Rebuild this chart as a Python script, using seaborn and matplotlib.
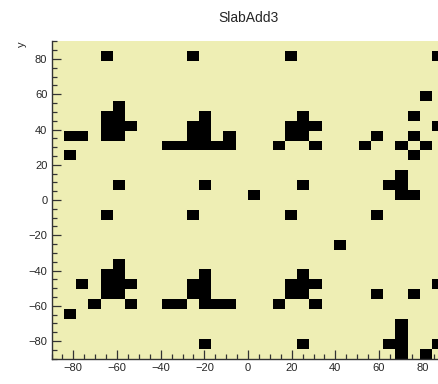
import numpy as np
import pandas as pd
import seaborn as sns
import matplotlib.pyplot as plt
from matplotlib.colors import ListedColormap
from matplotlib.ticker import MultipleLocator

# ---- data: filled cells of the 2D histogram (bin centres), grouped by row
row_y = [81.6, 59.1, 53.4, 47.8, 42.2, 36.6, 30.9, 25.3, 14.1, 8.4, 2.8,
         -8.4, -25.3, -36.6, -42.2, -47.8, -53.4, -59.1, -64.7, -70.3,
         -75.9, -81.6, -87.2]
row_x = [
    [-64.7, -25.3, 19.7, 87.2],
    [81.6],
    [-59.1],
    [-64.7, -59.1, -19.7, 25.3, 75.9],
    [-64.7, -59.1, -53.4, -25.3, -19.7, 19.7, 25.3, 30.9, 87.2],
    [-81.6, -75.9, -64.7, -59.1, -25.3, -19.7, -8.4, 19.7, 25.3, 59.1, 75.9],
    [-36.6, -30.9, -25.3, -19.7, -14.1, -8.4, 14.1, 30.9, 53.4, 70.3, 81.6],
    [-81.6, 75.9],
    [70.3],
    [-59.1, -19.7, 25.3, 64.7, 70.3],
    [2.8, 70.3, 75.9],
    [-64.7, -25.3, 19.7, 59.1],
    [42.2],
    [-59.1],
    [-64.7, -59.1, -19.7, 25.3],
    [-75.9, -64.7, -59.1, -53.4, -25.3, -19.7, 19.7, 25.3, 30.9, 87.2],
    [-64.7, -59.1, -25.3, -19.7, 19.7, 25.3, 59.1, 75.9],
    [-70.3, -53.4, -36.6, -30.9, -19.7, -14.1, -8.4, 14.1, 30.9],
    [-81.6],
    [70.3],
    [70.3],
    [-19.7, 25.3, 64.7, 70.3, 87.2],
    [70.3, 81.6],
]

hit_x = [x for xs in row_x for x in xs]
hit_y = [y for y, xs in zip(row_y, row_x) for _ in xs]
df = pd.DataFrame({"x": hit_x, "y": hit_y})

# ---- figure
sns.set_style("ticks")
plt.rcParams['font.family'] = ['Liberation Sans Narrow', 'Liberation Sans', 'DejaVu Sans']

fig = plt.figure(figsize=(4.38, 3.84), dpi=100)
ax = fig.add_axes([0.1176, 0.0661, 0.8973, 0.826])
ax.set_facecolor("#EEEEB4")

sns.histplot(data=df, x="x", y="y", bins=32, binrange=((-90, 90), (-90, 90)),
             cmap=ListedColormap(["black"]), ax=ax)

ax.set_xlim(-90, 90)
ax.set_ylim(-90, 90)
ax.set_xlabel("")
ax.set_ylabel("")
ax.xaxis.set_major_locator(MultipleLocator(20))
ax.xaxis.set_minor_locator(MultipleLocator(5))
ax.yaxis.set_major_locator(MultipleLocator(20))
ax.yaxis.set_minor_locator(MultipleLocator(5))
ax.tick_params(which="major", direction="in", length=6.5, width=0.9,
               color="#333333", labelsize=8, pad=3)
ax.tick_params(which="minor", direction="in", length=3.5, width=0.9,
               color="#333333")
for side in ["top", "right"]:
    ax.spines[side].set_visible(False)
for side in ["left", "bottom"]:
    ax.spines[side].set_color("#333333")
    ax.spines[side].set_linewidth(1.0)

fig.text(248 / 438, 1 - 18 / 384, "SlabAdd3", ha="center", va="center", fontsize=10)
fig.text(22 / 438, 1 - 44 / 384, "y", rotation=90, ha="center", va="center", fontsize=8)

fig.savefig("out.png", dpi=100)
